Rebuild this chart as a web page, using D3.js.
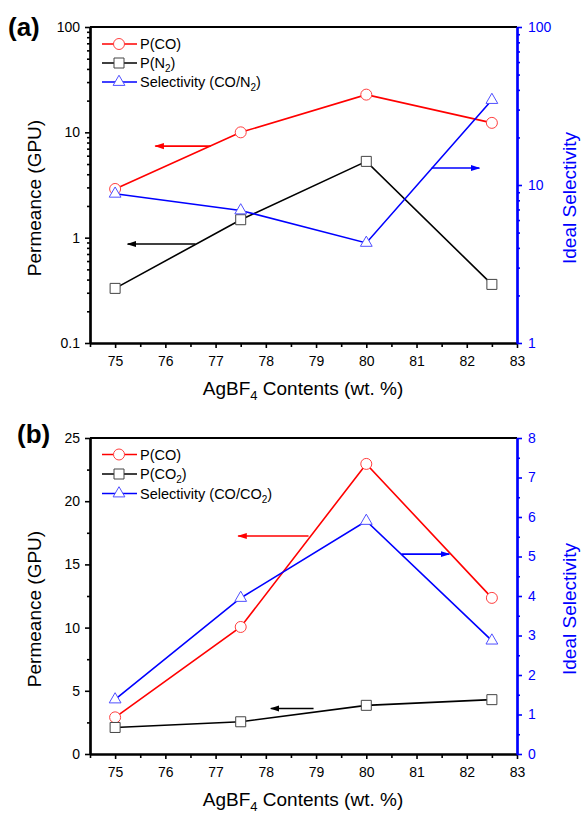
<!DOCTYPE html>
<html>
<head>
<meta charset="utf-8">
<script src="https://cdn.jsdelivr.net/npm/d3@7"></script>
<style>
body { margin: 0; background: #fff; }
text { font-family: Arial, "Liberation Sans", sans-serif; }
</style>
</head>
<body>
<div id="chart"></div>
<script>
// data
var contents = [75, 77.5, 80, 82.5]

var aPermCO = [2.9, 10, 22.8, 12.3]
var aPermN2 = [0.33, 1.48, 5.3, 0.36]
var aSelCON2 = [8.8, 6.9, 4.3, 34.5]

var bPermCO = [2.9, 10.05, 22.95, 12.35]
var bPermCO2 = [2.1, 2.55, 3.85, 4.3]
var bSelCOCO2 = [1.38, 3.95, 5.9, 2.87]

// guide arrows: [x start, x end, y value, which axis, colour]
var aArrows = [[76.9, 75.8, 7.4, "left", "red"], [76.6, 75.25, 0.87, "left", "black"], [81.3, 82.25, 12.8, "right", "blue"]]
var bArrows = [[78.85, 77.45, 17.25, "left", "red"], [78.95, 78.1, 3.6, "left", "black"], [80.7, 81.65, 5.06, "right", "blue"]]

var xTicks = [75, 76, 77, 78, 79, 80, 81, 82, 83]
var xMinor = [74.5, 75.5, 76.5, 77.5, 78.5, 79.5, 80.5, 81.5, 82.5]

var W = 581, H = 813
var left = 90, right = 517

var svg = d3.select("#chart").append("svg")
    .attr("width", W)
    .attr("height", H)

var defs = svg.append("defs")
;[["red", "#ff0000"], ["black", "#000000"], ["blue", "#0000ff"]].forEach(function(c){
    defs.append("marker")
        .attr("id", "head-" + c[0])
        .attr("viewBox", "0 0 10 10")
        .attr("refX", 9).attr("refY", 5)
        .attr("markerWidth", 6).attr("markerHeight", 6)
        .attr("markerUnits", "strokeWidth")
        .attr("orient", "auto")
        .append("path")
        .attr("d", "M0,1.8 L10,5 L0,8.2 Z")
        .attr("fill", c[1])
})

function logTicks(lo, hi){
    var major = [], minor = []
    for (var e = Math.round(Math.log10(lo)); Math.pow(10, e) <= hi * 1.0001; e++){
        major.push(Math.pow(10, e))
        if (Math.pow(10, e) < hi * 0.999) for (var k = 2; k <= 9; k++) minor.push(k * Math.pow(10, e))
    }
    return [major, minor]
}

function subText(sel, parts, subSize){
    // parts: list of [string, isSub]
    parts.forEach(function(p){
        var t = sel.append("tspan").text(p[0])
        if (p[1]) t.attr("font-size", subSize).attr("baseline-shift", "-35%")
    })
}

function drawPanel(cfg){
    var top = cfg.top, bottom = cfg.bottom
    var g = svg.append("g")

    var x = d3.scaleLinear().domain([74.5, 83]).range([left, right])
    var yL = cfg.logScale ? d3.scaleLog().domain(cfg.leftDomain).range([bottom, top])
                          : d3.scaleLinear().domain(cfg.leftDomain).range([bottom, top])
    var yR = cfg.logScale ? d3.scaleLog().domain(cfg.rightDomain).range([bottom, top])
                          : d3.scaleLinear().domain(cfg.rightDomain).range([bottom, top])

    // top frame line
    g.append("line").attr("x1", left).attr("x2", right).attr("y1", top).attr("y2", top)
        .attr("stroke", "#000").attr("stroke-width", 2.2)

    // x axis
    g.append("g").attr("transform", "translate(0," + bottom + ")")
        .call(d3.axisBottom(x).tickValues(xMinor).tickSize(4).tickSizeOuter(0).tickFormat(""))
    g.append("g").attr("transform", "translate(0," + bottom + ")")
        .call(d3.axisBottom(x).tickValues(xTicks).tickSize(5).tickSizeOuter(0).tickPadding(8).tickFormat(d3.format("d")))

    var lMaj, lMin, rMaj, rMin
    if (cfg.logScale){
        var lt = logTicks(cfg.leftDomain[0], cfg.leftDomain[1]); lMaj = lt[0]; lMin = lt[1]
        var rt = logTicks(cfg.rightDomain[0], cfg.rightDomain[1]); rMaj = rt[0]; rMin = rt[1]
    } else {
        lMaj = d3.range(0, 25.1, 5); lMin = d3.range(2.5, 25, 5)
        rMaj = d3.range(0, 8.1, 1); rMin = d3.range(0.5, 8, 1)
    }
    var fmt = function(d){ return cfg.logScale ? (d < 1 ? d3.format(".1f")(d) : d3.format("d")(d)) : d3.format("d")(d) }

    // left axis
    g.append("g").attr("transform", "translate(" + left + ",0)")
        .call(d3.axisLeft(yL).tickValues(lMin).tickSize(3).tickSizeOuter(0).tickFormat(""))
    g.append("g").attr("transform", "translate(" + left + ",0)")
        .call(d3.axisLeft(yL).tickValues(lMaj).tickSize(5).tickSizeOuter(0).tickPadding(5).tickFormat(fmt))

    // right axis (blue)
    g.append("g").attr("class", "raxis").attr("transform", "translate(" + right + ",0)")
        .call(d3.axisRight(yR).tickValues(rMin).tickSize(3).tickSizeOuter(0).tickFormat(""))
    g.append("g").attr("class", "raxis").attr("transform", "translate(" + right + ",0)")
        .call(d3.axisRight(yR).tickValues(rMaj).tickSize(5).tickSizeOuter(0).tickPadding(6).tickFormat(fmt))

    g.selectAll(".domain").attr("stroke-width", 2.2)
    g.selectAll(".tick line").attr("stroke-width", 1.6)
    g.selectAll(".tick text").attr("font-size", 14).attr("font-family", "Arial, 'Liberation Sans', sans-serif")
    g.selectAll(".raxis .domain").attr("stroke", "#0000ff")
    g.selectAll(".raxis .tick line").attr("stroke", "#0000ff")
    g.selectAll(".raxis .tick text").attr("fill", "#0000ff")

    // series
    var series = [
        {vals: cfg.co, scale: yL, color: "#ff0000", mark: "#ff4040", sym: d3.symbolCircle, size: 95},
        {vals: cfg.other, scale: yL, color: "#000000", mark: "#444444", sym: d3.symbolSquare, size: 100},
        {vals: cfg.sel, scale: yR, color: "#0000ff", mark: "#5050ff", sym: d3.symbolTriangle, size: 60}
    ]
    series.forEach(function(s){
        var pts = contents.map(function(c, i){ return [x(c), s.scale(s.vals[i])] })
        g.append("path").attr("d", d3.line()(pts))
            .attr("fill", "none").attr("stroke", s.color).attr("stroke-width", 1.6)
    })
    series.forEach(function(s){
        g.selectAll(null).data(s.vals).enter().append("path")
            .attr("d", d3.symbol().type(s.sym).size(s.size))
            .attr("transform", function(d, i){ return "translate(" + x(contents[i]) + "," + s.scale(d) + ")" })
            .attr("fill", "#fff").attr("stroke", s.mark).attr("stroke-width", 1)
    })

    // arrows
    cfg.arrows.forEach(function(a){
        var sc = a[3] == "left" ? yL : yR
        var col = a[4] == "red" ? "#ff0000" : a[4] == "blue" ? "#0000ff" : "#000000"
        g.append("line")
            .attr("x1", x(a[0])).attr("x2", x(a[1]))
            .attr("y1", sc(a[2])).attr("y2", sc(a[2]))
            .attr("stroke", col).attr("stroke-width", 1.6)
            .attr("marker-end", "url(#head-" + a[4] + ")")
    })

    // legend
    var legY = cfg.legendY, legStep = cfg.legendStep
    series.forEach(function(s, i){
        var ly = legY + i * legStep
        g.append("line").attr("x1", 102).attr("x2", 137).attr("y1", ly).attr("y2", ly)
            .attr("stroke", s.color).attr("stroke-width", 1.6)
        g.append("path").attr("d", d3.symbol().type(s.sym).size(s.size))
            .attr("transform", "translate(119," + ly + ")")
            .attr("fill", "#fff").attr("stroke", s.mark).attr("stroke-width", 1)
        var t = g.append("text").attr("x", 140).attr("y", ly + 5).attr("font-size", 14.5)
        subText(t, cfg.legend[i], 10)
    })

    // axis titles
    var xt = g.append("text").attr("x", 303).attr("y", cfg.xTitleY)
        .attr("text-anchor", "middle").attr("font-size", 19)
    subText(xt, [["AgBF", false], ["4", true], [" Contents (wt. %)", false]], 13)

    g.append("text").attr("transform", "translate(41," + ((top + bottom) / 2 + 13) + ") rotate(-90)")
        .attr("text-anchor", "middle").attr("font-size", 19)
        .text("Permeance (GPU)")
    g.append("text").attr("transform", "translate(576," + ((top + bottom) / 2 + 13) + ") rotate(-90)")
        .attr("text-anchor", "middle").attr("font-size", 19).attr("fill", "#0000ff")
        .text("Ideal Selectivity")

    g.append("text").attr("x", cfg.labelX).attr("y", cfg.labelY)
        .attr("font-size", 26).attr("font-weight", "bold").text(cfg.label)
}

drawPanel({
    top: 27, bottom: 343, logScale: true,
    leftDomain: [0.1, 100], rightDomain: [1, 100],
    co: aPermCO, other: aPermN2, sel: aSelCON2, arrows: aArrows,
    legendY: 44, legendStep: 19,
    legend: [[["P(CO)", false]], [["P(N", false], ["2", true], [")", false]], [["Selectivity (CO/N", false], ["2", true], [")", false]]],
    xTitleY: 395, label: "(a)", labelX: 8, labelY: 36
})

drawPanel({
    top: 438, bottom: 754, logScale: false,
    leftDomain: [0, 25], rightDomain: [0, 8],
    co: bPermCO, other: bPermCO2, sel: bSelCOCO2, arrows: bArrows,
    legendY: 454.5, legendStep: 19.5,
    legend: [[["P(CO)", false]], [["P(CO", false], ["2", true], [")", false]], [["Selectivity (CO/CO", false], ["2", true], [")", false]]],
    xTitleY: 806, label: "(b)", labelX: 17, labelY: 443
})
</script>
</body>
</html>
